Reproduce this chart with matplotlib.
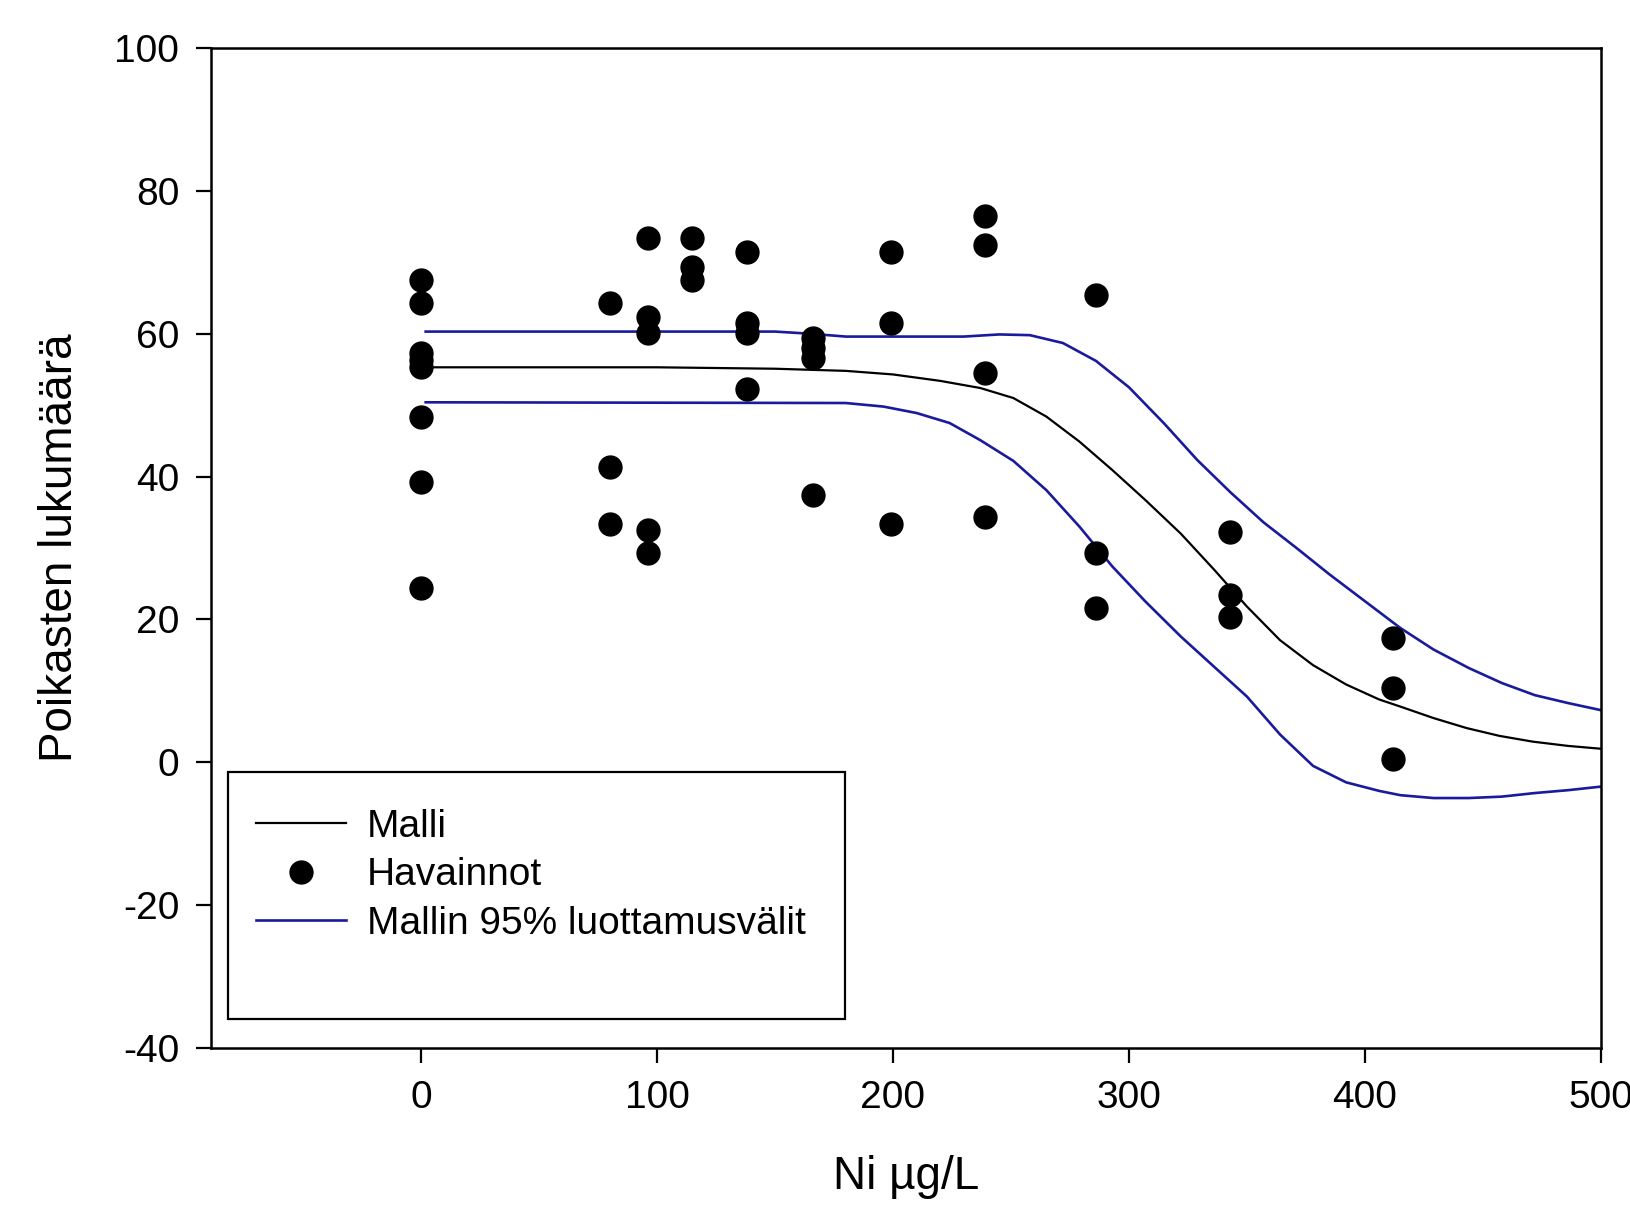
import matplotlib
matplotlib.use("Agg")
import matplotlib.pyplot as plt
from matplotlib.lines import Line2D
from matplotlib.patches import Rectangle

plt.rcParams['font.family'] = ['Liberation Sans', 'DejaVu Sans']
plt.rcParams['axes.unicode_minus'] = False

# ---- data ----
obs_x = [0, 0, 0, 0, 0, 0, 0, 0,
         80, 80, 80,
         96, 96, 96, 96, 96,
         115, 115, 115,
         138, 138, 138, 138,
         166, 166, 166, 166,
         199, 199, 199,
         239, 239, 239, 239,
         286, 286, 286,
         343, 343, 343,
         412, 412, 412]
obs_y = [67.5, 64.3, 57.3, 56.3, 55.4, 48.4, 39.3, 24.4,
         64.3, 41.3, 33.4,
         73.4, 62.4, 60.1, 32.5, 29.3,
         73.4, 69.3, 67.5,
         71.5, 61.5, 60.1, 52.3,
         59.4, 58.0, 56.6, 37.4,
         71.5, 61.5, 33.4,
         76.5, 72.4, 54.5, 34.3,
         65.4, 29.3, 21.6,
         32.3, 23.4, 20.4,
         17.4, 10.4, 0.4]

model_x = [2, 50, 100, 150, 180, 200, 220, 237, 251, 265, 279, 293, 307, 322,
           336, 350, 364, 378, 392, 406, 415, 429, 443, 457, 471, 486, 500]
model_y = [55.3, 55.3, 55.3, 55.1, 54.8, 54.3, 53.4, 52.4, 51.0, 48.4, 44.9, 40.9,
           36.7, 32.0, 27.0, 21.8, 17.1, 13.6, 10.9, 8.8, 7.8, 6.2, 4.8, 3.7, 2.9,
           2.3, 1.9]

upper_x = [2, 150, 165, 180, 230, 245, 258, 272, 286, 300, 315, 329, 343, 357,
           371, 385, 399, 415, 429, 444, 458, 472, 486, 500]
upper_y = [60.3, 60.3, 60.0, 59.6, 59.6, 59.9, 59.8, 58.7, 56.2, 52.5, 47.4, 42.3,
           37.8, 33.6, 30.0, 26.3, 22.8, 18.8, 15.8, 13.2, 11.1, 9.4, 8.3, 7.3]

lower_x = [2, 180, 196, 210, 224, 237, 251, 265, 279, 286, 293, 307, 322, 336,
           350, 364, 378, 392, 406, 415, 429, 444, 458, 472, 486, 500]
lower_y = [50.4, 50.3, 49.8, 48.9, 47.5, 45.1, 42.2, 38.1, 33.0, 30.2, 27.4, 22.5,
           17.6, 13.4, 9.2, 3.9, -0.5, -2.8, -4.0, -4.6, -5.0, -5.0, -4.8, -4.3,
           -3.9, -3.4]

x_ticks = [0, 100, 200, 300, 400, 500]
y_ticks = [-40, -20, 0, 20, 40, 60, 80, 100]

label_model = "Malli"
label_obs = "Havainnot"
label_ci = "Mallin 95% luottamusvälit"
blue = '#1a1a9c'

fig = plt.figure(figsize=(16.3, 12.15), dpi=100)
ax = fig.add_axes([0.1294, 0.1374, 0.8528, 0.8231])

ax.plot(model_x, model_y, color='black', lw=1.6, zorder=2)
ax.plot(upper_x, upper_y, color=blue, lw=1.9, zorder=2)
ax.plot(lower_x, lower_y, color=blue, lw=1.9, zorder=2)
ax.plot(obs_x, obs_y, linestyle='none', marker='o', ms=16.5, color='black', zorder=3)

ax.set_xlim(-89, 500)
ax.set_ylim(-40, 100)
ax.set_xticks(x_ticks)
ax.set_yticks(y_ticks)
ax.tick_params(axis='both', which='major', direction='out', length=10.8, width=1.6,
               labelsize=28, pad=12, top=False, right=False)
for sp in ax.spines.values():
    sp.set_linewidth(1.8)

ax.set_xlabel("Ni µg/L", fontsize=33)
ax.set_ylabel("Poikasten lukumäärä", fontsize=33)
ax.xaxis.set_label_coords(0.5, -0.107)
ax.yaxis.set_label_coords(-0.093, 0.5)

# legend box
ax.add_patch(Rectangle((0.0122, 0.029), 0.4438, 0.247, transform=ax.transAxes,
                       fill=False, edgecolor='black', lw=1.6, zorder=5))
handles = [Line2D([], [], color='black', lw=1.6),
           Line2D([], [], linestyle='none', marker='o', ms=16.5, color='black'),
           Line2D([], [], color=blue, lw=1.9)]
ax.legend(handles, [label_model, label_obs, label_ci], loc='upper left',
          bbox_to_anchor=(0.0325, 0.239), frameon=False, fontsize=28,
          handlelength=2.3, handletextpad=0.55, labelspacing=0.32,
          borderpad=0, borderaxespad=0)

fig.savefig("out.png", dpi=100)
